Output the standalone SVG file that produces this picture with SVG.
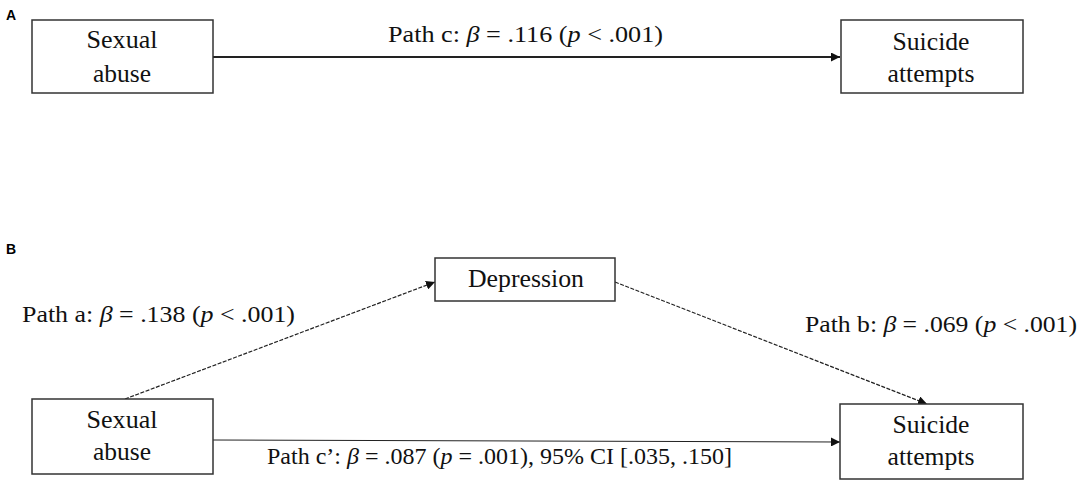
<svg xmlns="http://www.w3.org/2000/svg" width="1084" height="483" viewBox="0 0 1084 483">
<style>
.box{fill:#fff;stroke:#333;stroke-width:1.5}
.t{font-family:"Liberation Serif","Times New Roman",serif;font-size:24px;fill:#111}
.n{font-family:"Liberation Serif","Times New Roman",serif;font-size:25px;fill:#111;text-anchor:middle}
.i{font-style:italic}
.lbl{font-family:"Liberation Sans",Arial,sans-serif;font-size:14px;font-weight:bold;fill:#000}
.ln{stroke:#222;fill:none}
</style>
<defs>
<marker id="ah" viewBox="0 0 10 10" refX="10" refY="5" markerWidth="9" markerHeight="9" markerUnits="userSpaceOnUse" orient="auto">
<path d="M0,0 L10,5 L0,10 z" fill="#111"/>
</marker>
</defs>
<text class="lbl" x="6" y="20">A</text>
<text class="lbl" x="6" y="254">B</text>
<g id="connectors">
<line class="ln" x1="213" y1="57" x2="840" y2="57" stroke-width="2" marker-end="url(#ah)"/>
<line class="ln" x1="125" y1="399" x2="435" y2="282" stroke-width="1.2" stroke-dasharray="4 1.5" marker-end="url(#ah)"/>
<line class="ln" x1="615" y1="282" x2="927" y2="404" stroke-width="1.2" stroke-dasharray="4 1.5" marker-end="url(#ah)"/>
<line class="ln" x1="213" y1="440" x2="840" y2="442" stroke-width="1" stroke="#555" marker-end="url(#ah)"/>
<text class="t" x="388" y="42" textLength="275" lengthAdjust="spacingAndGlyphs">Path c: <tspan class="i">β</tspan> = .116 (<tspan class="i">p</tspan> &lt; .001)</text>
<text class="t" x="22" y="322" textLength="273" lengthAdjust="spacingAndGlyphs">Path a: <tspan class="i">β</tspan> = .138 (<tspan class="i">p</tspan> &lt; .001)</text>
<text class="t" x="805" y="332" textLength="272" lengthAdjust="spacingAndGlyphs">Path b: <tspan class="i">β</tspan> = .069 (<tspan class="i">p</tspan> &lt; .001)</text>
<text class="t" x="267" y="464" textLength="465" lengthAdjust="spacingAndGlyphs">Path c’: <tspan class="i">β</tspan> = .087 (<tspan class="i">p</tspan> = .001), 95% CI [.035, .150]</text>
</g>
<g id="a-sexual-abuse">
<rect class="box" x="32" y="20" width="181" height="73"/>
<text class="n" x="122" y="48" textLength="71" lengthAdjust="spacingAndGlyphs">Sexual</text>
<text class="n" x="122" y="82" textLength="58" lengthAdjust="spacingAndGlyphs">abuse</text>
</g>
<g id="a-suicide-attempts">
<rect class="box" x="841" y="20" width="182" height="73"/>
<text class="n" x="931" y="50" textLength="77" lengthAdjust="spacingAndGlyphs">Suicide</text>
<text class="n" x="931" y="82" textLength="87" lengthAdjust="spacingAndGlyphs">attempts</text>
</g>
<g id="b-depression">
<rect class="box" x="435" y="258" width="180" height="43"/>
<text class="n" x="526" y="287" textLength="116" lengthAdjust="spacingAndGlyphs">Depression</text>
</g>
<g id="b-sexual-abuse">
<rect class="box" x="32" y="399" width="181" height="75"/>
<text class="n" x="122" y="428" textLength="71" lengthAdjust="spacingAndGlyphs">Sexual</text>
<text class="n" x="122" y="460" textLength="58" lengthAdjust="spacingAndGlyphs">abuse</text>
</g>
<g id="b-suicide-attempts">
<rect class="box" x="840" y="404" width="183" height="75"/>
<text class="n" x="931" y="433" textLength="77" lengthAdjust="spacingAndGlyphs">Suicide</text>
<text class="n" x="931" y="465" textLength="87" lengthAdjust="spacingAndGlyphs">attempts</text>
</g>
</svg>
